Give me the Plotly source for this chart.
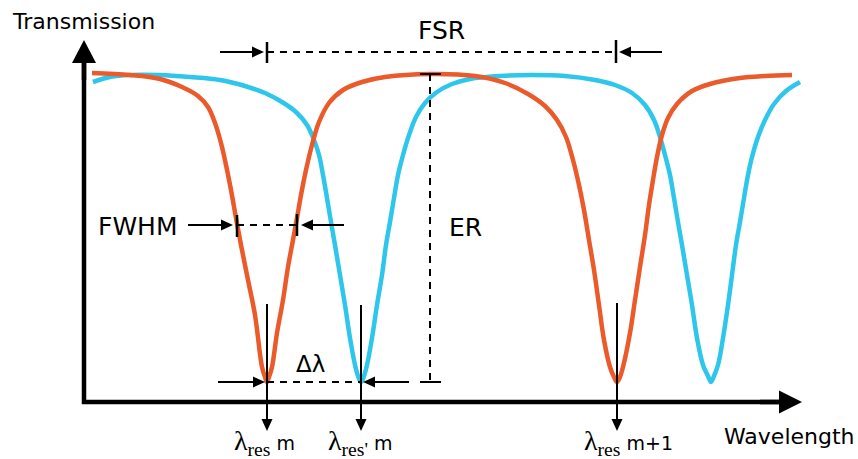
import math
import plotly.graph_objects as go

# ---- data (x = wavelength position, y = drawing height, larger y = lower transmission)
orange_x = [92, 130, 160, 182, 198, 208, 215, 221, 226, 231, 236, 241, 248, 255, 262, 265, 267,
            269, 272, 277, 283, 288, 293, 297, 301, 306, 312, 319, 329, 343, 362, 385, 430,
            475, 505, 528, 545, 557, 566, 573, 579, 584, 589, 594, 599, 604, 610, 614, 617,
            620, 623, 630, 635, 640, 645, 649, 653, 657, 662, 668, 677, 692, 710, 740, 765, 792]
orange_y = [73, 75, 79, 87, 96, 107, 123, 143, 165, 190, 218, 245, 280, 315, 367, 377, 382,
            377, 367, 333, 300, 267, 240, 218, 195, 170, 145, 122, 103, 90, 82, 77, 74,
            76, 83, 94, 106, 120, 137, 160, 185, 210, 240, 270, 305, 340, 367, 377, 382,
            377, 367, 333, 300, 267, 235, 205, 180, 157, 135, 118, 104, 91, 84, 78, 76, 75]

cyan_x = [93, 110, 130, 160, 190, 220, 245, 265, 282, 296, 307, 314, 319, 323, 327, 331, 335,
          340, 345, 350, 355, 358, 361, 364, 367, 372, 377, 382, 386, 390, 394, 398, 403, 409,
          416, 425, 437, 452, 470, 500, 530, 565, 595, 615, 632, 645, 654, 660, 665, 670, 674,
          678, 682, 687, 692, 697, 703, 708, 711, 714, 718, 723, 728, 732, 736, 740, 744, 748,
          752, 758, 765, 774, 786, 800]
cyan_y = [82, 77, 75, 75, 77, 80, 86, 93, 102, 112, 125, 140, 155, 175, 198, 222, 245,
          275, 305, 338, 365, 376, 382, 376, 365, 338, 305, 275, 245, 222, 198, 175, 155, 135,
          117, 103, 92, 84, 79, 76, 75, 76, 80, 85, 93, 105, 120, 137, 155, 175, 198,
          222, 245, 275, 305, 338, 365, 376, 382, 376, 365, 338, 305, 275, 245, 222, 198, 175,
          157, 137, 120, 104, 91, 82]

# resonance markers
res_x = [267, 361, 617]
res_labels = ["λ<sub>res</sub>", "λ<sub>res'</sub>", "λ<sub>res</sub>"]
res_orders = ["m", "m", "m+1"]

ORANGE = "#EA5A2B"
CYAN = "#2EC6EA"

fig = go.Figure()
fig.add_trace(go.Scatter(x=cyan_x, y=cyan_y, mode="lines", hoverinfo="skip",
                         line=dict(color=CYAN, width=4.5, shape="spline", smoothing=1.0)))
fig.add_trace(go.Scatter(x=orange_x, y=orange_y, mode="lines", hoverinfo="skip",
                         line=dict(color=ORANGE, width=4.5, shape="spline", smoothing=1.0)))

shapes = []


def line(x0, y0, x1, y1, w=2, dash=None):
    d = dict(color="black", width=w)
    if dash:
        d["dash"] = dash
    shapes.append(dict(type="line", xref="x", yref="y", x0=x0, y0=y0, x1=x1, y1=y1, line=d))


def arrow(x0, y0, x1, y1, w=2, hl=12, hw=5.5):
    dx, dy = x1 - x0, y1 - y0
    L = math.hypot(dx, dy)
    ux, uy = dx / L, dy / L
    bx, by = x1 - ux * hl, y1 - uy * hl
    px, py = -uy, ux
    line(x0, y0, bx + ux * 2, by + uy * 2, w)
    path = (f"M{x1},{y1} L{bx + px * hw},{by + py * hw} "
            f"L{bx - px * hw},{by - py * hw} Z")
    shapes.append(dict(type="path", xref="x", yref="y", path=path,
                       fillcolor="black", line=dict(color="black", width=0)))


DASH = "7px,6px"

# axes
line(84, 404, 84, 58, w=4.5)
arrow(84, 80, 84, 40, w=4.5, hl=23, hw=12)
line(82, 402, 784, 402, w=4.5)
arrow(760, 402, 802, 402, w=4.5, hl=23, hw=11.5)

# FSR
arrow(220, 52, 264, 52)
line(267, 42, 267, 63, w=2.5)
line(267, 52, 616, 52, dash=DASH)
line(616, 40, 616, 63, w=2.5)
arrow(662, 52, 619, 52)

# FWHM
arrow(188, 225, 233, 225)
line(237, 215, 237, 237, w=2.5)
line(237, 225, 297, 225, dash=DASH)
line(297, 214, 297, 236, w=2.5)
arrow(344, 225, 301, 225)

# ER
line(420, 74, 441, 74, w=2)
line(430, 74, 430, 382, dash=DASH)
line(420, 382, 441, 382, w=2)

# delta lambda
arrow(218, 382, 265, 382)
line(267, 382, 361, 382, dash=DASH)
arrow(409, 382, 363, 382)

# resonance arrows
for rx, top in zip(res_x, [304, 305, 303]):
    arrow(rx, top, rx, 431, w=2, hl=12, hw=5.5)

annotations = []


def text(x, y, s, size, xanchor="left", family="DejaVu Sans"):
    annotations.append(dict(x=x, y=y, xref="x", yref="y", text=s, showarrow=False,
                            xanchor=xanchor, yanchor="middle",
                            font=dict(family=family, size=size, color="black")))


text(10, 21, "Transmission", 22)
text(441, 30, "FSR", 25, xanchor="center")
text(96, 226, "FWHM", 25)
text(447, 227, "ER", 25)
text(294, 364, "Δλ", 23)
text(722, 436, "Wavelength", 22)

for rx, lab, order in zip(res_x, res_labels, res_orders):
    s = f"{lab}<span style='font-family:DejaVu Sans;font-size:19px'> {order}</span>"
    text(rx - 35, 442, s, 28, family="Liberation Serif")

fig.update_layout(
    width=858, height=459,
    margin=dict(l=0, r=0, t=0, b=0),
    paper_bgcolor="white", plot_bgcolor="white",
    showlegend=False,
    xaxis=dict(range=[0, 858], visible=False, fixedrange=True),
    yaxis=dict(range=[459, 0], visible=False, fixedrange=True),
    shapes=shapes,
    annotations=annotations,
)

fig.write_html("out.html")
